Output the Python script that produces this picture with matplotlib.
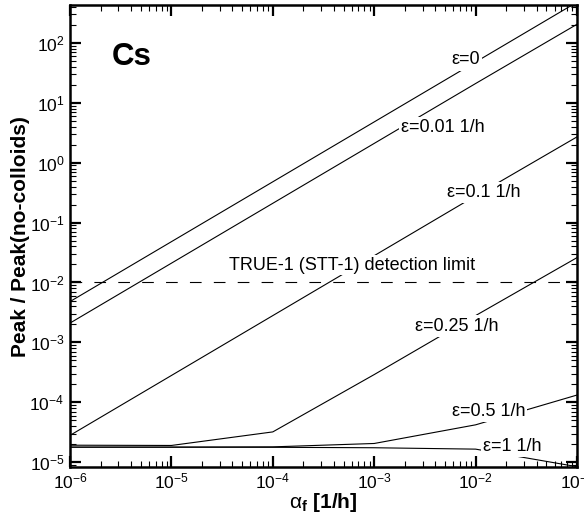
import numpy as np
from matplotlib import pyplot as plt
from matplotlib.ticker import LogLocator, NullFormatter

plt.rcParams['font.family'] = ['Liberation Sans', 'DejaVu Sans']
plt.rcParams['mathtext.fontset'] = 'custom'
plt.rcParams['mathtext.rm'] = 'Liberation Sans'
plt.rcParams['mathtext.it'] = 'Liberation Sans:italic'
plt.rcParams['mathtext.bf'] = 'Liberation Sans:bold'
plt.rcParams['axes.unicode_minus'] = False

# colloid filtration coefficient alpha_f [1/h]
alpha = [1e-6, 1e-5, 1e-4, 1e-3, 1e-2, 1e-1]

# Peak / Peak(no-colloids) for each desorption rate epsilon
peak_eps0   = [4.8e-3, 4.8e-2, 0.48, 4.8, 48, 480]
peak_eps001 = [2.1e-3, 2.1e-2, 0.21, 2.1, 21, 205]
peak_eps01  = [2.8e-5, 2.8e-4, 2.8e-3, 2.8e-2, 0.28, 2.7]
peak_eps025 = [1.92e-5, 1.9e-5, 3.2e-5, 2.9e-4, 2.8e-3, 2.6e-2]
peak_eps05  = [1.78e-5, 1.78e-5, 1.8e-5, 2.05e-5, 4.2e-5, 1.32e-4]
peak_eps1   = [1.78e-5, 1.78e-5, 1.77e-5, 1.74e-5, 1.65e-5, 8.4e-6]

detection_limit = 1e-2

series = [peak_eps0, peak_eps001, peak_eps01, peak_eps025, peak_eps05, peak_eps1]
labels = ['ε=0', 'ε=0.01 1/h', 'ε=0.1 1/h', 'ε=0.25 1/h', 'ε=0.5 1/h', 'ε=1 1/h']
label_pos = [(7.9e-3, 52), (4.8e-3, 3.8), (1.2e-2, 0.32), (6.5e-3, 1.87e-3),
             (1.34e-2, 6.98e-5), (2.31e-2, 1.82e-5)]

fig = plt.figure(figsize=(5.84, 5.18), dpi=100)
ax = fig.add_axes([70/584, 51/518, 507/584, 462/518])

for s in series:
    ax.plot(alpha, s, color='black', linewidth=0.8, zorder=2)

ax.axhline(detection_limit, color='black', linewidth=0.8, dashes=(10.5, 11), zorder=2)

for txt, (x, y) in zip(labels, label_pos):
    ax.text(x, y, txt, fontsize=13, ha='center', va='center', zorder=3,
            bbox=dict(facecolor='white', edgecolor='none', pad=1.5))

ax.text(6.0e-4, 0.0195, 'TRUE-1 (STT-1) detection limit', fontsize=13,
        ha='center', va='center', zorder=3,
        bbox=dict(facecolor='white', edgecolor='none', pad=1.0))

ax.text(0.083, 0.870, 'Cs', transform=ax.transAxes, fontsize=22.5,
        fontweight='bold', ha='left', va='baseline')

ax.set_xscale('log')
ax.set_yscale('log')
ax.set_xlim(1e-6, 1e-1)
ax.set_ylim(8.3e-6, 430)

for axis in (ax.xaxis, ax.yaxis):
    axis.set_major_locator(LogLocator(base=10, numticks=100))
    axis.set_minor_locator(LogLocator(base=10, subs=np.arange(2, 10), numticks=100))
    axis.set_minor_formatter(NullFormatter())

ax.tick_params(which='both', direction='in', top=True, right=True)
ax.tick_params(which='major', length=8, width=1.6, labelsize=12.5)
ax.tick_params(which='minor', length=4, width=0.8)
ax.tick_params(axis='x', which='major', pad=3)
ax.tick_params(axis='y', which='major', pad=4)
for sp in ax.spines.values():
    sp.set_linewidth(1.8)

ax.set_xlabel(r'$\mathrm{\alpha}_\mathbf{f}$ [1/h]', fontsize=15, fontweight='bold', labelpad=0)
fig.text(21/584, 1 - 237/518, 'Peak / Peak(no-colloids)', rotation=90,
         fontsize=15, fontweight='bold', ha='center', va='center')

fig.savefig('out.png', dpi=100)
